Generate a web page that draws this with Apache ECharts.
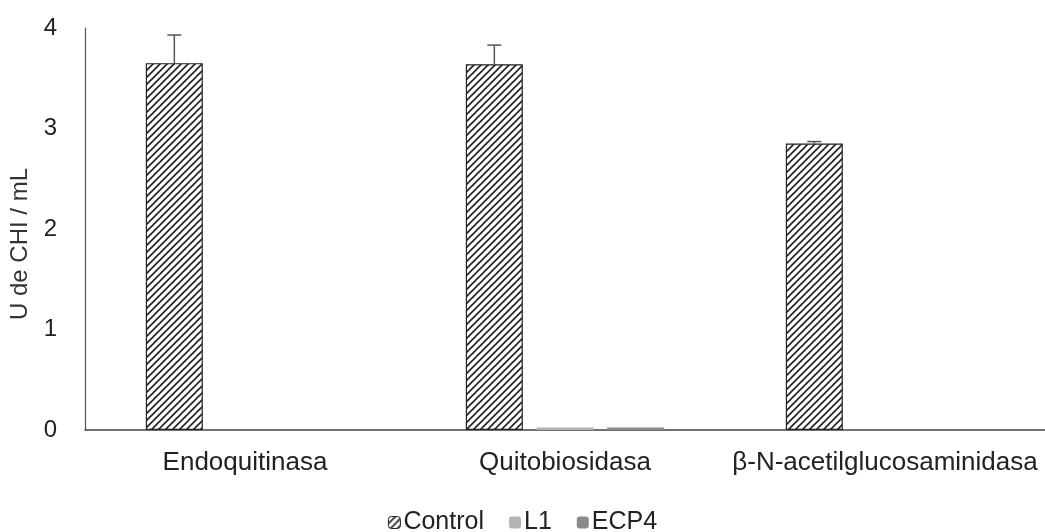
<!DOCTYPE html>
<html>
<head>
<meta charset="utf-8">
<script src="https://cdn.jsdelivr.net/npm/echarts@6/dist/echarts.min.js"></script>
<style>
  html, body { margin: 0; padding: 0; background: #fff; }
  #chart { width: 1045px; height: 532px; }
</style>
</head>
<body>
<div id="chart"></div>
<script>
// Chitinase activity by enzyme type
const categories = ['Endoquitinasa', 'Quitobiosidasa', 'β-N-acetilglucosaminidasa'];
const seriesNames = ['Control', 'L1', 'ECP4'];
const controlValues = [3.65, 3.64, 2.85];
const controlErrors = [0.28, 0.19, 0.02];
const l1Values = [0, 0.025, 0];
const ecp4Values = [0, 0.025, 0];
const yTicks = [0, 1, 2, 3, 4];

// Diagonal hatch fill for the Control bars
function makeHatch() {
  const c = document.createElement('canvas');
  const s = 7;
  c.width = s; c.height = s;
  const ctx = c.getContext('2d');
  ctx.fillStyle = '#fff';
  ctx.fillRect(0, 0, s, s);
  ctx.strokeStyle = '#222';
  ctx.lineWidth = 1.6;
  ctx.beginPath();
  ctx.moveTo(-1, s + 1); ctx.lineTo(s + 1, -1);
  ctx.moveTo(-1, 1); ctx.lineTo(1, -1);
  ctx.moveTo(s - 1, s + 1); ctx.lineTo(s + 1, s - 1);
  ctx.stroke();
  return c;
}
const hatch = { image: makeHatch(), repeat: 'repeat' };

const chart = echarts.init(document.getElementById('chart'), null, { renderer: 'canvas' });

const font = 'Liberation Sans, Arial, sans-serif';
const BAR_W = 57;
const BAR_GAP = 0.24;

chart.setOption({
  animation: false,
  backgroundColor: '#fff',
  grid: { left: 85, right: 0, top: 28, bottom: 102, containLabel: false },
  legend: {
    top: 505,
    left: 'center',
    itemWidth: 12,
    itemHeight: 12,
    itemGap: 25,
    textStyle: { fontFamily: font, fontSize: 25, color: '#222', padding: [0, 0, 0, -2] },
    data: [
      { name: 'Control', itemStyle: { color: hatch, borderColor: '#222', borderWidth: 1 } },
      { name: 'L1', itemStyle: { color: '#b4b4b4' } },
      { name: 'ECP4', itemStyle: { color: '#8a8a8a' } }
    ]
  },
  xAxis: {
    type: 'category',
    data: categories,
    axisLine: { lineStyle: { color: '#444', width: 1.5 } },
    axisTick: { show: false },
    axisLabel: { fontFamily: font, fontSize: 26, color: '#222', margin: 20, interval: 0, hideOverlap: false }
  },
  yAxis: {
    type: 'value',
    min: 0,
    max: 4,
    interval: 1,
    name: 'U de CHI / mL',
    nameLocation: 'middle',
    nameGap: 46,
    nameTextStyle: { fontFamily: font, fontSize: 24, color: '#333', padding: [0, 30, 0, 0] },
    axisLine: { show: true, lineStyle: { color: '#555', width: 1.2 } },
    axisTick: { show: false },
    splitLine: { show: false },
    axisLabel: {
      fontFamily: font, fontSize: 24, color: '#222', margin: 28,
      formatter: v => (yTicks.includes(v) ? String(v) : '')
    }
  },
  series: [
    {
      name: 'Control',
      type: 'bar',
      data: controlValues,
      barWidth: BAR_W,
      barGap: (BAR_GAP * 100) + '%',
      itemStyle: { color: hatch, borderColor: '#222', borderWidth: 1.2 }
    },
    {
      name: 'L1',
      type: 'bar',
      data: l1Values,
      barWidth: BAR_W,
      itemStyle: { color: '#b4b4b4' }
    },
    {
      name: 'ECP4',
      type: 'bar',
      data: ecp4Values,
      barWidth: BAR_W,
      itemStyle: { color: '#8a8a8a' }
    },
    {
      // Error bars (upper whisker) on the Control bars
      name: 'Control error',
      type: 'custom',
      z: 10,
      data: controlValues.map((v, i) => [i, v, v + controlErrors[i]]),
      renderItem: function (params, api) {
        const i = api.value(0);
        const base = api.coord([i, api.value(1)]);
        const top = api.coord([i, api.value(2)]);
        // Control bar is the first of three bars in the group
        const x = base[0] - BAR_W * (1 + BAR_GAP);
        const half = 7;
        return {
          type: 'group',
          children: [
            { type: 'line', shape: { x1: x, y1: base[1], x2: x, y2: top[1] }, style: { stroke: '#555', lineWidth: 1.5 } },
            { type: 'line', shape: { x1: x - half, y1: top[1], x2: x + half, y2: top[1] }, style: { stroke: '#555', lineWidth: 1.5 } }
          ]
        };
      }
    }
  ]
});
</script>
</body>
</html>
